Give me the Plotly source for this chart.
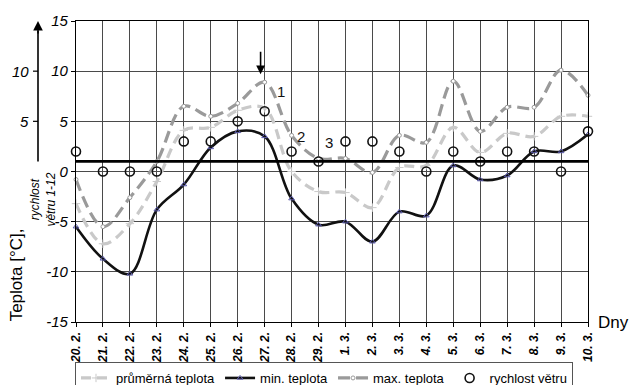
import plotly.graph_objects as go

# Days of the observed period
days = ["20. 2.", "21. 2.", "22. 2.", "23. 2.", "24. 2.", "25. 2.", "26. 2.",
        "27. 2.", "28. 2.", "29. 2.", "1. 3.", "2. 3.", "3. 3.", "4. 3.",
        "5. 3.", "6. 3.", "7. 3.", "8. 3.", "9. 3.", "10. 3."]

# Daily temperatures [°C]
avg_temp = [-3.2, -7.2, -5.2, -1.0, 4.1, 4.4, 6.1, 6.3, 0.0, -2.0,
            -2.1, -3.6, 0.4, 0.6, 4.4, 1.9, 3.8, 3.5, 5.5, 5.5]
min_temp = [-5.5, -8.7, -10.2, -3.8, -1.3, 2.4, 4.0, 3.5, -2.7, -5.3,
            -5.0, -7.0, -4.0, -4.4, 0.6, -0.8, -0.4, 2.0, 2.0, 3.7]
max_temp = [-0.8, -5.5, -2.6, 1.0, 6.5, 5.5, 6.8, 8.9, 3.6, 1.3,
            1.3, -0.1, 3.6, 2.9, 9.0, 4.0, 6.4, 6.4, 10.1, 7.6]

# Wind speed (scale 1-12)
wind = [2, 0, 0, 0, 3, 3, 5, 6, 2, 1, 3, 3, 2, 0, 2, 1, 2, 2, 0, 4]

temp_ticks = [15, 10, 5, 0, -5, -10, -15]
wind_ticks = [10, 5]

FONT = "Liberation Sans, Arial, sans-serif"

fig = go.Figure()

fig.add_trace(go.Scatter(
    x=days, y=avg_temp, name="průměrná teplota", mode="lines+markers",
    line=dict(color="#c9c9c9", width=3.2, dash="10px,6px", shape="spline", smoothing=1),
    marker=dict(symbol="cross-thin-open", size=6, line=dict(color="#2e9e6e", width=1)),
    cliponaxis=False))

fig.add_trace(go.Scatter(
    x=days, y=min_temp, name="min. teplota", mode="lines+markers",
    line=dict(color="#111111", width=2.6, shape="spline", smoothing=1),
    marker=dict(symbol="triangle-up-open", size=5, color="#5a5aa8", line=dict(width=1)),
    cliponaxis=False))

fig.add_trace(go.Scatter(
    x=days, y=max_temp, name="max. teplota", mode="lines+markers",
    line=dict(color="#9a9a9a", width=3.2, dash="12px,6px", shape="spline", smoothing=1),
    marker=dict(symbol="circle", size=4, color="white", line=dict(color="#9a9a9a", width=1)),
    cliponaxis=False))

fig.add_trace(go.Scatter(
    x=days, y=wind, name="rychlost větru", mode="markers",
    marker=dict(symbol="circle-open", size=9, color="#111111", line=dict(width=1.6)),
    cliponaxis=False))

# Reference level at 1
fig.add_shape(type="line", xref="paper", yref="y", x0=0, x1=1, y0=1, y1=1,
              line=dict(color="black", width=2.8))

# Auxiliary wind-speed axis on the left
PLOT_W = 512.0
def px_to_paper(px):
    return (px - 76) / PLOT_W

fig.add_shape(type="line", xref="paper", yref="y", x0=px_to_paper(38), x1=px_to_paper(38),
              y0=1, y1=14.0, line=dict(color="black", width=1.6))
fig.add_annotation(xref="paper", yref="y", x=px_to_paper(38), y=15.0, ax=0, ay=14,
                   text="", showarrow=True, arrowhead=2, arrowsize=1.2, arrowwidth=1.6,
                   arrowcolor="black")
for v in wind_ticks:
    fig.add_shape(type="line", xref="paper", yref="y", x0=px_to_paper(33), x1=px_to_paper(38),
                  y0=v, y1=v, line=dict(color="black", width=1.2))
    fig.add_annotation(xref="paper", yref="y", x=px_to_paper(31), y=v, text=str(v),
                       showarrow=False, xanchor="right",
                       font=dict(family=FONT, size=15, style="italic", color="black"))

fig.add_annotation(xref="paper", yref="y", x=px_to_paper(26), y=-2.8,
                   text="rychlost<br>větru 1-12", showarrow=False, textangle=-90,
                   font=dict(family=FONT, size=12, style="italic", color="black"))
fig.add_annotation(xref="paper", yref="y", x=px_to_paper(5), y=-10.3,
                   text="Teplota [°C],", showarrow=False, textangle=-90,
                   font=dict(family=FONT, size=17, color="black"))

# Labels inside the plot
for txt, xi, yv in [("1", 7.6, 8.0), ("2", 8.35, 3.5), ("3", 9.4, 2.9)]:
    fig.add_annotation(x=xi, y=yv, xref="x", yref="y", text=txt, showarrow=False,
                       font=dict(family=FONT, size=15, color="#111111"))
fig.add_annotation(x=6.85, y=9.7, xref="x", yref="y", text="", showarrow=True,
                   ax=0, ay=-24, arrowhead=2, arrowsize=1.1, arrowwidth=1.6, arrowcolor="black")

fig.add_annotation(xref="paper", yref="y", x=px_to_paper(596), y=-15, text="Dny",
                   xanchor="left", showarrow=False,
                   font=dict(family=FONT, size=17, color="black"))

fig.update_layout(
    width=629, height=385,
    margin=dict(l=76, r=41, t=21, b=63, autoexpand=False),
    paper_bgcolor="white", plot_bgcolor="white",
    showlegend=True,
    legend=dict(orientation="h", xref="container", yref="container",
                x=75 / 629, xanchor="left", y=1 - 362 / 385, yanchor="top",
                bordercolor="#555555", borderwidth=1,
                font=dict(family=FONT, size=13, color="black"),
                itemwidth=30, tracegroupgap=0),
    xaxis=dict(type="category", range=[0, 19], tickangle=-90,
               showgrid=True, gridcolor="#4a4a4a", gridwidth=1,
               showline=True, linecolor="black", linewidth=1.3, mirror=True,
               ticks="outside", ticklen=4, tickcolor="black",
               tickfont=dict(family=FONT, size=12, style="italic", weight="bold", color="black")),
    yaxis=dict(range=[-15, 15], tickvals=temp_ticks, ticktext=[str(t) for t in temp_ticks],
               showgrid=True, gridcolor="#4a4a4a", gridwidth=1, zeroline=False,
               showline=True, linecolor="black", linewidth=1.3, mirror=True,
               ticks="outside", ticklen=4, tickcolor="black",
               tickfont=dict(family=FONT, size=15, style="italic", color="black")),
)

fig.write_html("out.html")
